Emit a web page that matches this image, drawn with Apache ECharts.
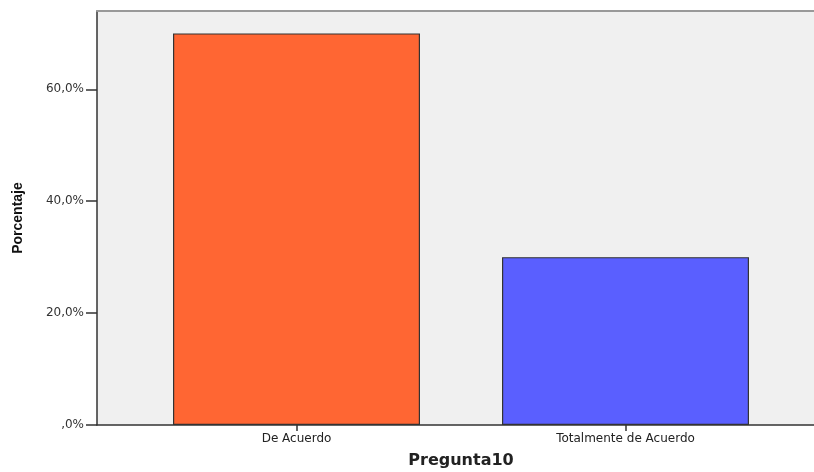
<!DOCTYPE html>
<html><head><meta charset="utf-8">
<script src="https://cdn.jsdelivr.net/npm/echarts@6/dist/echarts.min.js"></script>
<style>html,body{margin:0;padding:0;background:#fff}#c{width:814px;height:472px}</style>
</head><body><div id="c"></div>
<script>
var categories = ['De Acuerdo', 'Totalmente de Acuerdo'];
var values = [70.0, 30.0];
var barColors = ['#FF6633', '#5A5FFF'];
var yTicks = [0, 20, 40, 60];
var yMax = 74;

function fmt(v) {
  var s = v.toFixed(1).replace('.', ',');
  if (s.indexOf('0,') === 0) s = s.slice(1);
  return s + '%';
}

var chart = echarts.init(document.getElementById('c'), null, {renderer: 'canvas'});
chart.setOption({
  animation: false,
  grid: [
    {left: 97, right: 0, top: 11, bottom: 47, show: true, backgroundColor: '#F0F0F0', borderWidth: 0, containLabel: false, outerBoundsMode: 'none'},
    {left: 132, right: 24, top: 11, bottom: 47, show: false, containLabel: false, outerBoundsMode: 'none'}
  ],
  xAxis: [
    {gridIndex: 0, type: 'value', min: 0, max: 1, position: 'top',
      axisLine: {show: true, onZero: false, lineStyle: {color: '#999', width: 2}},
      axisTick: {show: false}, axisLabel: {show: false}, splitLine: {show: false}},
    {gridIndex: 0, type: 'value', min: 0, max: 1, position: 'bottom',
      axisLine: {show: true, onZero: false, lineStyle: {color: '#333', width: 1.5}},
      axisTick: {show: false}, axisLabel: {show: false}, splitLine: {show: false}},
    {gridIndex: 1, type: 'category', data: categories, position: 'bottom',
      axisLine: {show: false},
      axisTick: {show: true, alignWithLabel: true, length: 6, lineStyle: {color: '#333', width: 1.5}},
      axisLabel: {show: true, margin: 8, color: '#222', fontFamily: 'DejaVu Sans, sans-serif', fontSize: 12},
      name: 'Pregunta10', nameLocation: 'middle', nameGap: 28,
      nameTextStyle: {fontFamily: 'DejaVu Sans, sans-serif', fontWeight: 'bold', fontSize: 16, color: '#222'}}
  ],
  yAxis: [
    {gridIndex: 0, type: 'value', min: 0, max: yMax, interval: 20,
      axisLine: {show: true, onZero: false, lineStyle: {color: '#333', width: 1.5}},
      axisTick: {show: true, length: 11, customValues: yTicks, lineStyle: {color: '#333', width: 1.5}},
      axisLabel: {show: true, margin: 13, customValues: yTicks, formatter: fmt, color: '#333', fontFamily: 'DejaVu Sans, sans-serif', fontSize: 12},
      splitLine: {show: false},
      name: 'Porcentaje', nameLocation: 'middle', nameGap: 72, nameRotate: 90,
      nameTextStyle: {fontFamily: 'Liberation Sans, Arial, sans-serif', fontWeight: 'bold', fontSize: 14, color: '#111'}},
    {gridIndex: 1, type: 'value', min: 0, max: yMax, show: false}
  ],
  series: [{
    type: 'bar', xAxisIndex: 2, yAxisIndex: 1,
    barWidth: 247,
    data: values.map(function (v, i) {
      return {value: v, itemStyle: {color: barColors[i], borderColor: '#333', borderWidth: 1.2}};
    })
  }]
});
</script></body></html>
